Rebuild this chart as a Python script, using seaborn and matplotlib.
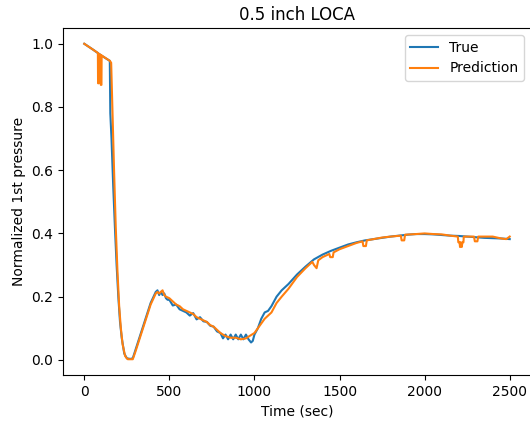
import matplotlib
matplotlib.use("Agg")
import matplotlib.pyplot as plt
import pandas as pd
import seaborn as sns

# values
t_true = [0, 50, 100, 150, 153, 160, 170, 180, 190, 200, 210, 220, 235, 250, 270, 285,
          300, 330, 360, 390, 420, 430, 440, 450, 460, 470, 480, 490, 500, 520, 540,
          560, 580, 600, 620, 640, 660, 680, 700, 720, 740, 760, 780, 800, 815, 830,
          845, 860, 875, 890, 905, 920, 935, 950, 965, 980, 990, 1000, 1020, 1040,
          1060, 1080, 1100, 1130, 1160, 1200, 1250, 1300, 1350, 1400, 1450, 1500,
          1550, 1600, 1650, 1700, 1750, 1800, 1850, 1900, 1950, 2000, 2050, 2100,
          2150, 2200, 2250, 2300, 2350, 2400, 2450, 2500]
p_true = [1.0, 0.982, 0.963, 0.946, 0.78, 0.70, 0.55, 0.42, 0.30, 0.20, 0.12, 0.07,
          0.02, 0.005, 0.003, 0.005, 0.03, 0.08, 0.13, 0.18, 0.215, 0.22, 0.205, 0.215,
          0.205, 0.21, 0.195, 0.19, 0.19, 0.172, 0.175, 0.16, 0.155, 0.15, 0.14, 0.148,
          0.128, 0.135, 0.122, 0.12, 0.108, 0.105, 0.09, 0.085, 0.068, 0.08, 0.065, 0.08,
          0.065, 0.08, 0.065, 0.08, 0.065, 0.08, 0.065, 0.055, 0.06, 0.08, 0.10, 0.13,
          0.15, 0.155, 0.17, 0.20, 0.22, 0.24, 0.27, 0.295, 0.318, 0.333, 0.345, 0.355,
          0.365, 0.372, 0.378, 0.382, 0.386, 0.39, 0.393, 0.396, 0.398, 0.398, 0.397,
          0.395, 0.393, 0.392, 0.39, 0.388, 0.386, 0.385, 0.384, 0.382]

t_pred = [0, 50, 80, 81, 85, 86, 96, 97, 101, 102, 150, 158, 165, 175, 185, 195, 205,
          215, 225, 240, 255, 285, 300, 330, 360, 390, 420, 430, 440, 450, 460, 470,
          480, 500, 520, 540, 560, 580, 600, 620, 640, 660, 680, 700, 720, 740, 760,
          780, 800, 830, 860, 890, 920, 950, 970, 1000, 1020, 1040, 1060, 1080, 1100,
          1130, 1160, 1200, 1250, 1300, 1340, 1350, 1365, 1375, 1400, 1440, 1445, 1460,
          1465, 1500, 1550, 1600, 1635, 1640, 1655, 1660, 1700, 1750, 1800, 1860, 1865,
          1880, 1885, 1950, 2000, 2050, 2100, 2150, 2195, 2198, 2205, 2208, 2212, 2218,
          2222, 2228, 2230, 2290, 2295, 2310, 2315, 2350, 2400, 2450, 2480, 2500]
p_pred = [1.0, 0.982, 0.971, 0.875, 0.875, 0.968, 0.965, 0.87, 0.87, 0.963, 0.946,
          0.94, 0.80, 0.60, 0.42, 0.28, 0.17, 0.10, 0.05, 0.012, 0.002, 0.002, 0.025,
          0.075, 0.125, 0.175, 0.21, 0.215, 0.21, 0.215, 0.22, 0.205, 0.20, 0.195,
          0.185, 0.175, 0.17, 0.16, 0.155, 0.15, 0.145, 0.135, 0.13, 0.125, 0.12, 0.11,
          0.105, 0.095, 0.085, 0.075, 0.07, 0.07, 0.065, 0.068, 0.075, 0.085, 0.10,
          0.115, 0.13, 0.14, 0.15, 0.18, 0.20, 0.225, 0.262, 0.29, 0.31, 0.30, 0.29,
          0.315, 0.325, 0.335, 0.325, 0.325, 0.34, 0.35, 0.36, 0.37, 0.375, 0.36, 0.36,
          0.378, 0.382, 0.387, 0.39, 0.393, 0.378, 0.378, 0.396, 0.398, 0.40, 0.398,
          0.397, 0.393, 0.39, 0.372, 0.372, 0.357, 0.372, 0.357, 0.372, 0.372, 0.39,
          0.39, 0.375, 0.375, 0.39, 0.39, 0.39, 0.384, 0.382, 0.39]

df = pd.concat([
    pd.DataFrame({"time": t_true, "value": p_true, "series": "True"}),
    pd.DataFrame({"time": t_pred, "value": p_pred, "series": "Prediction"}),
])

fig = plt.figure(figsize=(5.3, 4.21), dpi=100)
ax = fig.add_axes([63 / 530, 46 / 421, 468 / 530, 347 / 421])
sns.lineplot(data=df, x="time", y="value", hue="series",
             palette=["#1f77b4", "#ff7f0e"], estimator=None, sort=False,
             linewidth=1.5, ax=ax)

handles, labels = ax.get_legend_handles_labels()
ax.legend(handles, labels, loc="upper right")
ax.set_title("0.5 inch LOCA")
ax.set_xlabel("Time (sec)")
ax.set_ylabel("Normalized 1st pressure")
ax.set_xticks([0, 500, 1000, 1500, 2000, 2500])

fig.savefig("out.png", dpi=100)
